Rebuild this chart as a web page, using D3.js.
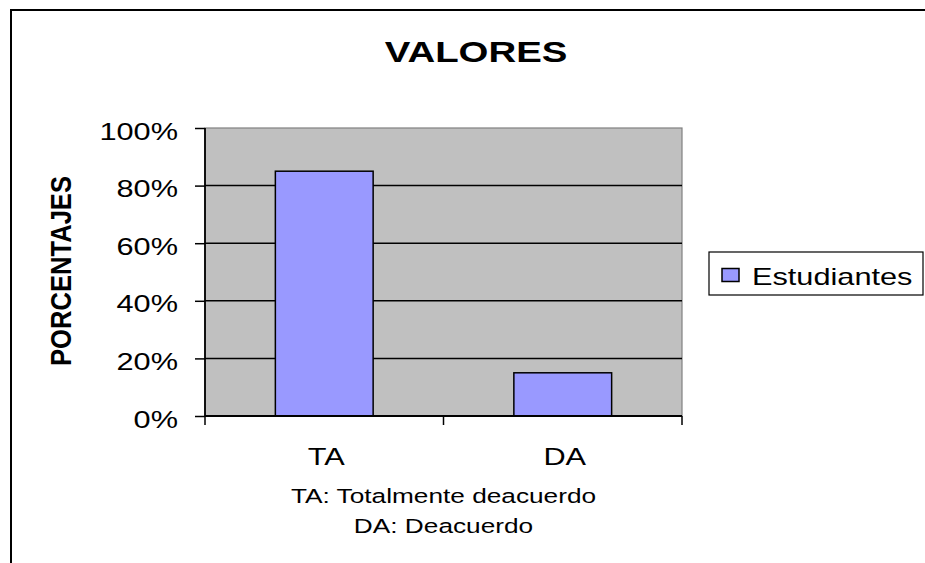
<!DOCTYPE html>
<html>
<head>
<meta charset="utf-8">
<script src="https://cdn.jsdelivr.net/npm/d3@7"></script>
<style>
  html, body { margin: 0; padding: 0; background: #fff; overflow: hidden; }
  svg { display: block; font-family: "Liberation Sans", Arial, sans-serif; }
</style>
</head>
<body>
<svg id="chart" width="925" height="563"></svg>
<script>
// ---- data ----
const categories = ["TA", "DA"];
const values = [0.85, 0.15];
const seriesName = "Estudiantes";
const yTicks = [0, 0.2, 0.4, 0.6, 0.8, 1.0];
const yTickLabels = ["0%", "20%", "40%", "60%", "80%", "100%"];
const title = "VALORES";
const yTitle = "PORCENTAJES";
const notes = ["TA: Totalmente deacuerdo", "DA: Deacuerdo"];

// ---- layout ----
const svg = d3.select("#chart");
const SX = 1.28; // horizontal stretch of the original picture
const plot = { left: 205, right: 682, top: 128, bottom: 416 };
const barColor = "#9999ff";

// outer frame (only top and left edges are visible)
svg.append("path")
  .attr("d", "M11,600V10H1000")
  .attr("fill", "none").attr("stroke", "#000").attr("stroke-width", 2);

const x = d3.scaleBand().domain(categories)
  .range([plot.left, plot.right]).paddingInner(0.59).paddingOuter(0.295);
const y = d3.scaleLinear().domain([0, 1]).range([plot.bottom, plot.top]);

// plot background
svg.append("rect")
  .attr("x", plot.left).attr("y", plot.top)
  .attr("width", plot.right - plot.left).attr("height", plot.bottom - plot.top)
  .attr("fill", "#c0c0c0").attr("stroke", "#808080").attr("stroke-width", 1.2);

// gridlines
svg.append("g").selectAll("line")
  .data(yTicks.filter(d => d > 0 && d < 1))
  .join("line")
  .attr("x1", plot.left).attr("x2", plot.right)
  .attr("y1", d => y(d)).attr("y2", d => y(d))
  .attr("stroke", "#000").attr("stroke-width", 1.5);

// bars
svg.append("g").selectAll("rect")
  .data(categories.map((c, i) => ({ c, v: values[i] })))
  .join("rect")
  .attr("x", d => x(d.c)).attr("width", x.bandwidth())
  .attr("y", d => y(d.v)).attr("height", d => y(0) - y(d.v))
  .attr("fill", barColor).attr("stroke", "#000").attr("stroke-width", 1.5);

// y axis
const yAxis = svg.append("g")
  .attr("transform", `translate(${plot.left},0)`)
  .call(d3.axisLeft(y).tickValues(yTicks)
    .tickFormat((d, i) => yTickLabels[i]).tickSize(10).tickPadding(0));
yAxis.select(".domain").attr("stroke", "#000").attr("stroke-width", 1.8)
  .attr("d", `M0,${plot.top}V${plot.bottom}`);
yAxis.selectAll(".tick line").attr("stroke", "#000").attr("stroke-width", 1.5);
yAxis.selectAll(".tick text")
  .attr("x", null).attr("dy", null)
  .attr("transform", `translate(-27,11) scale(${SX},1)`)
  .attr("text-anchor", "end")
  .attr("font-size", 24).attr("fill", "#000")
  .attr("font-family", "Liberation Sans, Arial, sans-serif");

// x axis
const xAxis = svg.append("g")
  .attr("transform", `translate(0,${plot.bottom})`)
  .call(d3.axisBottom(x).tickSize(0).tickPadding(0));
xAxis.select(".domain").attr("stroke", "#000").attr("stroke-width", 1.8)
  .attr("d", `M${plot.left},0H${plot.right}`);
xAxis.selectAll(".tick text")
  .attr("y", null).attr("dy", null)
  .attr("transform", `translate(2,49) scale(${SX},1)`)
  .attr("font-size", 24).attr("fill", "#000")
  .attr("font-family", "Liberation Sans, Arial, sans-serif");
// category boundary ticks
const bounds = [plot.left].concat(categories.map(c => x(c) + x.bandwidth() + x.step() * x.paddingInner() / 2));
bounds[bounds.length - 1] = plot.right;
xAxis.append("g").selectAll("line").data(bounds).join("line")
  .attr("x1", d => d).attr("x2", d => d).attr("y1", 0).attr("y2", 9)
  .attr("stroke", "#000").attr("stroke-width", 1.5);

// title
svg.append("text")
  .attr("transform", `translate(476,62) scale(${SX},1)`)
  .attr("text-anchor", "middle").attr("font-weight", "bold")
  .attr("font-size", 30).text(title);

// y title
svg.append("text")
  .attr("transform", `translate(61,271) scale(${SX},1) rotate(-90)`)
  .attr("text-anchor", "middle").attr("dominant-baseline", "central")
  .attr("font-weight", "bold").attr("font-size", 23)
  .attr("textLength", 190).attr("lengthAdjust", "spacingAndGlyphs")
  .text(yTitle);

// notes below axis
const noteCenter = (plot.left + plot.right) / 2;
const noteBaselines = [503, 533];
svg.append("g").selectAll("text").data(notes).join("text")
  .attr("transform", (d, i) => `translate(${noteCenter},${noteBaselines[i]}) scale(${SX},1)`)
  .attr("text-anchor", "middle").attr("font-size", 20.5)
  .text(d => d);

// legend
const lg = svg.append("g");
lg.append("rect").attr("x", 709).attr("y", 252).attr("width", 214).attr("height", 43)
  .attr("fill", "#fff").attr("stroke", "#000").attr("stroke-width", 1.2);
lg.append("rect").attr("x", 722).attr("y", 268.5).attr("width", 17).attr("height", 13)
  .attr("fill", barColor).attr("stroke", "#000").attr("stroke-width", 1.5);
lg.append("text").attr("transform", `translate(752,285) scale(${SX},1)`)
  .attr("font-size", 24).text(seriesName);
</script>
</body>
</html>
